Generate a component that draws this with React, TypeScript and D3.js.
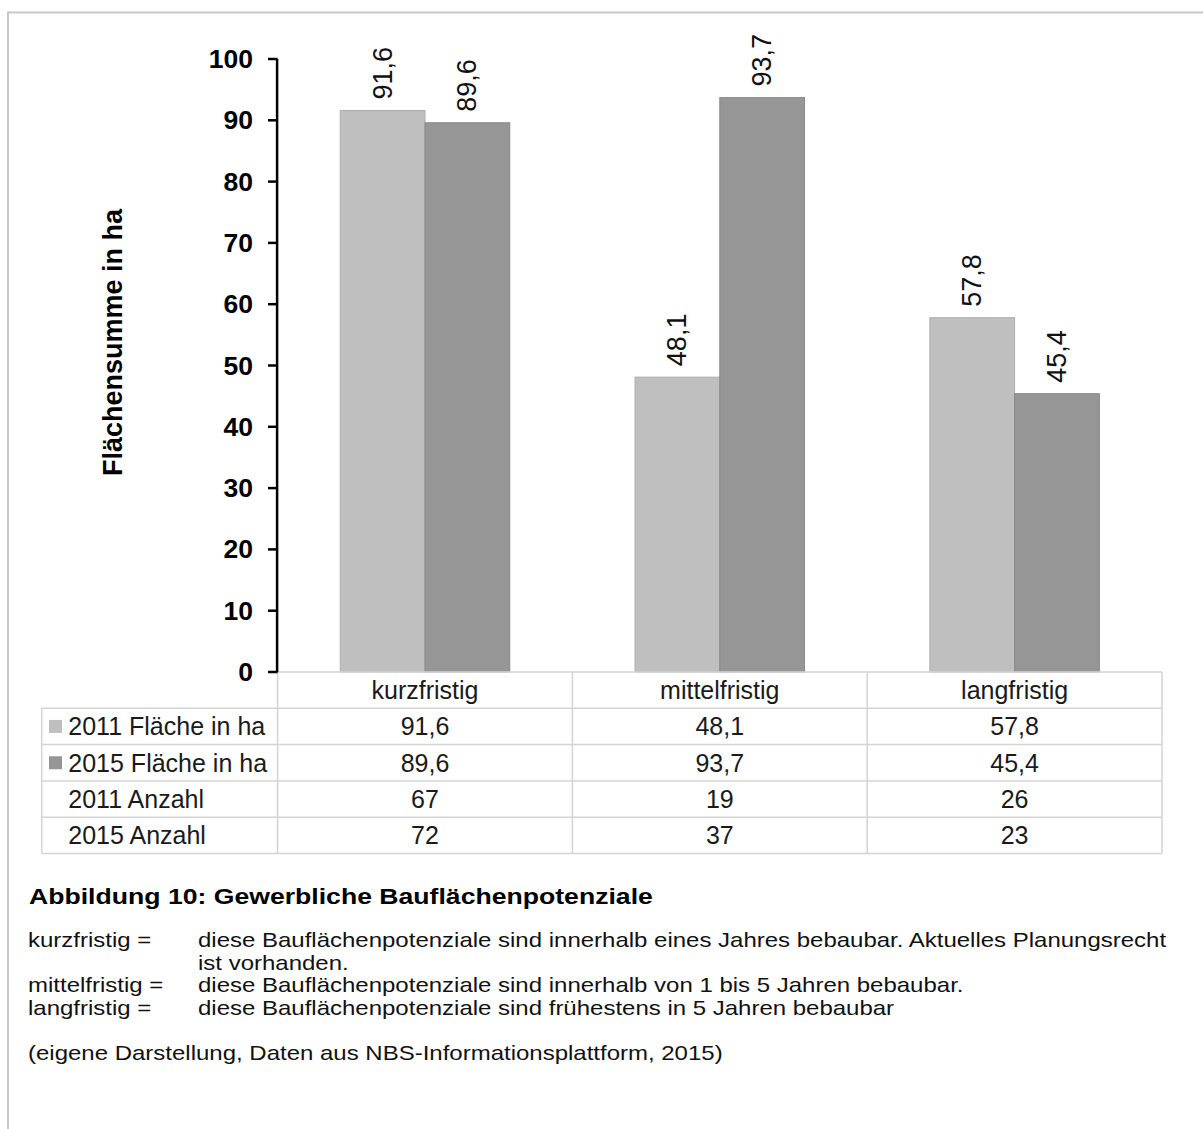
import React from "react";
import * as d3 from "d3";

// Gewerbliche Bauflächenpotenziale, Fläche (ha) und Anzahl nach Fristigkeit
const categories = ["kurzfristig", "mittelfristig", "langfristig"];
const series = ["2011 Fläche in ha", "2015 Fläche in ha"];
const flaeche2011 = [91.6, 48.1, 57.8];
const flaeche2015 = [89.6, 93.7, 45.4];
const anzahl2011 = [67, 19, 26];
const anzahl2015 = [72, 37, 23];
const yTickValues = [0, 10, 20, 30, 40, 50, 60, 70, 80, 90, 100];

const captionTitle = "Abbildung 10: Gewerbliche Bauflächenpotenziale";
const legendTerms = [
  { term: "kurzfristig =", lines: ["diese Bauflächenpotenziale sind innerhalb eines Jahres bebaubar. Aktuelles Planungsrecht", "ist vorhanden."] },
  { term: "mittelfristig =", lines: ["diese Bauflächenpotenziale sind innerhalb von 1 bis 5 Jahren bebaubar."] },
  { term: "langfristig =", lines: ["diese Bauflächenpotenziale sind frühestens in 5 Jahren bebaubar"] },
];
const sourceNote = "(eigene Darstellung, Daten aus NBS-Informationsplattform, 2015)";

const W = 1203;
const H = 1129;
const FONT = "'Liberation Sans', Arial, Helvetica, sans-serif";
const colors = ["#bfbfbf", "#969696"];
const strokes = ["#adadad", "#888888"];
const gridColor = "#d4d4d4";

const de = d3.formatLocale({ decimal: ",", thousands: ".", grouping: [3], currency: ["", " €"] });
const fmt1 = de.format(".1f");
const fmt0 = de.format("d");

// plot geometry
const axisX = 277.6;
const plotRight = 1162;
const yTop = 59;
const yBase = 672;
const tableLeft = 41.7;
const rowH = 36.3;

// caption text is set slightly wide
const capScaleX = 1.2;

export default function App() {
  const x = d3.scaleBand<string>().domain(categories).range([axisX, plotRight]).paddingInner(0.425).paddingOuter(0.2125);
  const xs = d3.scaleBand<string>().domain(series).range([0, x.bandwidth()]);
  const y = d3.scaleLinear().domain([0, 100]).range([yBase, yTop]);
  const colStep = (plotRight - axisX) / categories.length;

  const values = [flaeche2011, flaeche2015];
  const tableRows = [
    { label: series[0], color: colors[0], vals: flaeche2011.map(fmt1) },
    { label: series[1], color: colors[1], vals: flaeche2015.map(fmt1) },
    { label: "2011 Anzahl", color: null, vals: anzahl2011.map(fmt0) },
    { label: "2015 Anzahl", color: null, vals: anzahl2015.map(fmt0) },
  ];
  const tableBottom = yBase + rowH * 5;

  const legendLines: { term: string | null; text: string }[] = [];
  legendTerms.forEach((t) => t.lines.forEach((l, li) => legendLines.push({ term: li === 0 ? t.term : null, text: l })));
  const lineY0 = 947;
  const lineStep = 22.7;

  return (
    <svg width={W} height={H} style={{ position: "absolute", left: 0, top: 0, background: "#fff" }} fontFamily={FONT}>
      <rect x={0} y={0} width={W} height={H} fill="#fff" />
      {/* frame */}
      <line x1={8} x2={W} y1={12.5} y2={12.5} stroke="#c8c8c8" strokeWidth={2} />
      <line x1={8} x2={8} y1={11.5} y2={H} stroke="#c8c8c8" strokeWidth={2} />

      {/* bars */}
      {categories.map((c, ci) =>
        series.map((s, si) => {
          const v = values[si][ci];
          const bx = (x(c) as number) + (xs(s) as number);
          const bw = xs.bandwidth();
          return (
            <g key={c + s}>
              <rect x={bx} y={y(v)} width={bw} height={yBase - y(v)} fill={colors[si]} stroke={strokes[si]} strokeWidth={1} />
              <text
                transform={`translate(${bx + bw / 2},${y(v) - 11}) rotate(-90)`}
                fontSize={27}
                dominantBaseline="central"
                textAnchor="start"
                fill="#111"
              >
                {fmt1(v)}
              </text>
            </g>
          );
        })
      )}

      {/* data table */}
      <g stroke={gridColor} strokeWidth={1.5} fill="none">
        <line x1={axisX} x2={plotRight} y1={yBase} y2={yBase} />
        {d3.range(1, 6).map((r) => (
          <line key={r} x1={tableLeft} x2={plotRight} y1={yBase + rowH * r} y2={yBase + rowH * r} />
        ))}
        <line x1={tableLeft} x2={tableLeft} y1={yBase + rowH} y2={tableBottom} />
        {d3.range(0, 4).map((ci) => (
          <line key={ci} x1={axisX + colStep * ci} x2={axisX + colStep * ci} y1={yBase} y2={tableBottom} />
        ))}
      </g>
      {categories.map((c, ci) => (
        <text key={c} x={axisX + colStep * (ci + 0.5)} y={yBase + rowH * 0.5} fontSize={25} textAnchor="middle" dominantBaseline="central" fill="#1a1a1a">
          {c}
        </text>
      ))}
      {tableRows.map((row, ri) => {
        const cy = yBase + rowH * (ri + 1.5);
        return (
          <g key={row.label}>
            {row.color && <rect x={49} y={cy - 6.5} width={13} height={13} fill={row.color} />}
            <text x={68.3} y={cy} fontSize={25} dominantBaseline="central" fill="#1a1a1a">
              {row.label}
            </text>
            {row.vals.map((v, ci) => (
              <text key={ci} x={axisX + colStep * (ci + 0.5)} y={cy} fontSize={25} textAnchor="middle" dominantBaseline="central" fill="#1a1a1a">
                {v}
              </text>
            ))}
          </g>
        );
      })}

      {/* y axis */}
      <line x1={axisX - 0.5} x2={axisX - 0.5} y1={yTop} y2={yBase} stroke="#000" strokeWidth={2.5} />
      {yTickValues.map((t) => (
        <g key={t}>
          <line x1={268} x2={axisX} y1={y(t)} y2={y(t)} stroke="#000" strokeWidth={2.5} />
          <text x={253} y={y(t)} fontSize={26.5} fontWeight="bold" textAnchor="end" dominantBaseline="central" fill="#000">
            {t}
          </text>
        </g>
      ))}
      <text transform={`translate(113,342.5) rotate(-90)`} fontSize={27} fontWeight="bold" textAnchor="middle" dominantBaseline="central" fill="#000">
        Flächensumme in ha
      </text>

      {/* caption */}
      <text transform={`translate(29,904) scale(1.21,1)`} fontSize={22} fontWeight="bold" fill="#000">
        {captionTitle}
      </text>
      {legendLines.map((l, i) => (
        <g key={i}>
          {l.term && (
            <text transform={`translate(28,${lineY0 + i * lineStep}) scale(${capScaleX},1)`} fontSize={20} fill="#111">
              {l.term}
            </text>
          )}
          <text transform={`translate(198,${lineY0 + i * lineStep}) scale(${capScaleX},1)`} fontSize={20} fill="#111">
            {l.text}
          </text>
        </g>
      ))}
      <text transform={`translate(28,1060) scale(${capScaleX},1)`} fontSize={20} fill="#111">
        {sourceNote}
      </text>
    </svg>
  );
}
